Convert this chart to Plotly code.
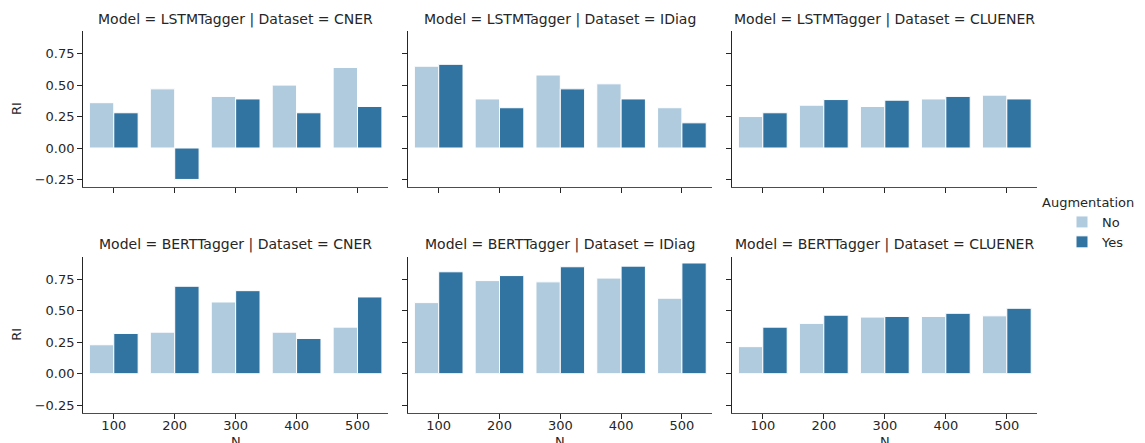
import plotly.graph_objects as go

N_labels = ["100", "200", "300", "400", "500"]
models = ["LSTMTagger", "BERTTagger"]
datasets = ["CNER", "IDiag", "CLUENER"]

# RI values: (No, Yes) per model / dataset
lstm_cner_no = [0.36, 0.47, 0.41, 0.50, 0.64]
lstm_cner_yes = [0.28, -0.25, 0.39, 0.28, 0.33]
lstm_idiag_no = [0.65, 0.39, 0.58, 0.51, 0.32]
lstm_idiag_yes = [0.665, 0.32, 0.47, 0.39, 0.20]
lstm_cluener_no = [0.25, 0.34, 0.33, 0.39, 0.42]
lstm_cluener_yes = [0.28, 0.385, 0.38, 0.41, 0.39]
bert_cner_no = [0.23, 0.33, 0.57, 0.33, 0.37]
bert_cner_yes = [0.32, 0.695, 0.66, 0.28, 0.61]
bert_idiag_no = [0.565, 0.74, 0.73, 0.76, 0.60]
bert_idiag_yes = [0.81, 0.78, 0.85, 0.855, 0.88]
bert_cluener_no = [0.215, 0.40, 0.45, 0.455, 0.46]
bert_cluener_yes = [0.37, 0.465, 0.455, 0.48, 0.52]

data = {
    ("LSTMTagger", "CNER"): (lstm_cner_no, lstm_cner_yes),
    ("LSTMTagger", "IDiag"): (lstm_idiag_no, lstm_idiag_yes),
    ("LSTMTagger", "CLUENER"): (lstm_cluener_no, lstm_cluener_yes),
    ("BERTTagger", "CNER"): (bert_cner_no, bert_cner_yes),
    ("BERTTagger", "IDiag"): (bert_idiag_no, bert_idiag_yes),
    ("BERTTagger", "CLUENER"): (bert_cluener_no, bert_cluener_yes),
}

y_ticks = [-0.25, 0.0, 0.25, 0.5, 0.75]
y_ticktext = ["\u22120.25", "0.00", "0.25", "0.50", "0.75"]

# page body has an 8px margin; work in reference pixel coords and shift
OFF = 8
W, H = 1145 - OFF, 443 - OFF
col_px = [(83.3, 388.0), (408.3, 712.3), (732.3, 1037.3)]
row_px = [(31.0, 187.0), (256.7, 412.7)]


def px_x(x):
    return (x - OFF) / W


def px_y(y):
    return 1 - (y - OFF) / H


C_NO = "#b0cbde"
C_YES = "#3274a1"
FONT = "DejaVu Sans"
TXT = "#262626"

fig = go.Figure()
layout = dict(
    width=W, height=H,
    margin=dict(l=0, r=0, t=0, b=0),
    paper_bgcolor="white", plot_bgcolor="white",
    barmode="group", bargap=0.2, bargroupgap=0.0,
    font=dict(family=FONT, size=13, color=TXT),
    showlegend=True,
)
annotations = []

idx = 0
for r, model in enumerate(models):
    for c, ds in enumerate(datasets):
        idx += 1
        xa = "x" if idx == 1 else f"x{idx}"
        ya = "y" if idx == 1 else f"y{idx}"
        no_vals, yes_vals = data[(model, ds)]
        for name, vals, col in (("No", no_vals, C_NO), ("Yes", yes_vals, C_YES)):
            fig.add_trace(go.Bar(
                x=N_labels, y=vals, name=name, xaxis=xa, yaxis=ya,
                marker=dict(color=col, line=dict(color="white", width=1)),
                showlegend=(idx == 1), legendgroup=name,
            ))
        x0, x1 = col_px[c]
        y0, y1 = row_px[r]
        xkey = "xaxis" if idx == 1 else f"xaxis{idx}"
        ykey = "yaxis" if idx == 1 else f"yaxis{idx}"
        layout[xkey] = dict(
            domain=[px_x(x0), px_x(x1)], anchor=ya, type="category",
            range=[-0.5, 4.5], showline=True, linecolor="#4d4d4d", linewidth=1.3,
            ticks="outside", ticklen=5, tickwidth=1.2, tickcolor=TXT,
            showticklabels=(r == 1), showgrid=False, zeroline=False,
            ticklabelstandoff=-4,
            tickfont=dict(family=FONT, size=13, color=TXT),
        )
        layout[ykey] = dict(
            domain=[px_y(y1), px_y(y0)], anchor=xa,
            range=[-0.31, 0.93], tickvals=y_ticks, ticktext=y_ticktext,
            showline=True, linecolor=TXT, linewidth=1.3,
            ticks="outside", ticklen=5, tickwidth=1.2, tickcolor=TXT,
            showticklabels=(c == 0), showgrid=False, zeroline=False,
            tickfont=dict(family=FONT, size=13, color=TXT),
        )
        annotations.append(dict(
            text=f"Model = {model} | Dataset = {ds}",
            x=px_x((x0 + x1) / 2), y=px_y(y0 - 12),
            xref="paper", yref="paper", xanchor="center", yanchor="middle",
            showarrow=False, font=dict(family=FONT, size=14, color=TXT),
        ))
        if r == 1:
            annotations.append(dict(
                text="N", x=px_x((x0 + x1) / 2), y=px_y(441),
                xref="paper", yref="paper", xanchor="center", yanchor="middle",
                showarrow=False, font=dict(family=FONT, size=13, color=TXT),
            ))
        if c == 0:
            annotations.append(dict(
                text="RI", x=px_x(17), y=px_y((y0 + y1) / 2),
                xref="paper", yref="paper", xanchor="center", yanchor="middle",
                textangle=-90, showarrow=False,
                font=dict(family=FONT, size=13, color=TXT),
            ))

annotations.append(dict(
    text="Augmentation", x=px_x(1088), y=px_y(202),
    xref="paper", yref="paper", xanchor="center", yanchor="middle",
    showarrow=False, font=dict(family=FONT, size=13, color=TXT),
))
layout["annotations"] = annotations
layout["legend"] = dict(
    x=px_x(1062), y=px_y(207), xanchor="left", yanchor="top",
    bgcolor="rgba(0,0,0,0)", font=dict(family=FONT, size=13, color=TXT),
    itemwidth=30, tracegroupgap=0, traceorder="normal",
)
fig.update_layout(**layout)
fig.write_html("out.html")
